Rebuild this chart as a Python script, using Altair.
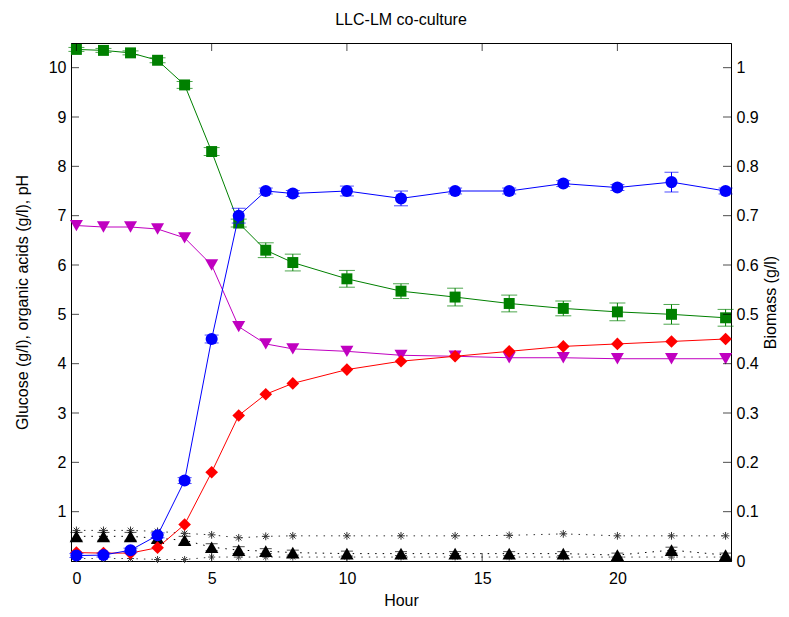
import altair as alt
import pandas as pd

hours = [0, 1, 2, 3, 4, 5, 6, 7, 8, 10, 12, 14, 16, 18, 20, 22, 24]

glucose = [10.37, 10.35, 10.30, 10.15, 9.65, 8.30, 6.85, 6.30, 6.05, 5.72, 5.47, 5.35, 5.22, 5.12, 5.05, 5.00, 4.93]
glucose_err = [0.04, 0.04, 0.04, 0.05, 0.07, 0.08, 0.08, 0.15, 0.17, 0.17, 0.15, 0.18, 0.17, 0.15, 0.18, 0.20, 0.17]

ph = [6.80, 6.77, 6.77, 6.73, 6.55, 6.00, 4.75, 4.40, 4.30, 4.25, 4.17, 4.15, 4.12, 4.12, 4.10, 4.10, 4.10]
lactate = [0.17, 0.16, 0.16, 0.27, 0.74, 1.80, 2.95, 3.38, 3.60, 3.88, 4.05, 4.15, 4.25, 4.35, 4.40, 4.45, 4.50]

acid_a = [0.50, 0.50, 0.50, 0.46, 0.42, 0.28, 0.22, 0.20, 0.17, 0.15, 0.15, 0.15, 0.15, 0.15, 0.12, 0.22, 0.12]
acid_a_err = [0.08, 0.08, 0.08, 0.08, 0.08, 0.07, 0.07, 0.05, 0.05, 0.05, 0.04, 0.04, 0.04, 0.04, 0.04, 0.06, 0.04]
acid_b = [0.62, 0.62, 0.62, 0.60, 0.56, 0.53, 0.47, 0.50, 0.51, 0.51, 0.51, 0.51, 0.52, 0.55, 0.51, 0.51, 0.51]
acid_c = [0.05, 0.05, 0.05, 0.03, 0.03, 0.08, 0.08, 0.08, 0.08, 0.08, 0.08, 0.08, 0.08, 0.08, 0.08, 0.08, 0.08]

biomass = [0.011, 0.012, 0.022, 0.052, 0.163, 0.450, 0.700, 0.750, 0.745, 0.750, 0.735, 0.750, 0.750, 0.765, 0.757, 0.768, 0.750]
biomass_err = [0.004, 0.004, 0.004, 0.005, 0.006, 0.008, 0.015, 0.006, 0.006, 0.010, 0.015, 0.006, 0.006, 0.006, 0.006, 0.020, 0.006]

x_ticks = [0, 5, 10, 15, 20]
left_ticks = [1, 2, 3, 4, 5, 6, 7, 8, 9, 10]
right_ticks = [0, 0.1, 0.2, 0.3, 0.4, 0.5, 0.6, 0.7, 0.8, 0.9, 1.0]

W, H = 660, 518
FONT = "Liberation Sans"
FS = 16

df = pd.DataFrame({
    "hour": hours,
    "glucose": glucose,
    "g_lo": [v - e for v, e in zip(glucose, glucose_err)],
    "g_hi": [v + e for v, e in zip(glucose, glucose_err)],
    "ph": ph,
    "lactate": lactate,
    "acid_a": acid_a,
    "a_lo": [v - e for v, e in zip(acid_a, acid_a_err)],
    "a_hi": [v + e for v, e in zip(acid_a, acid_a_err)],
    "acid_b": acid_b,
    "acid_c": acid_c,
    "biomass": biomass,
    "b_lo": [v - e for v, e in zip(biomass, biomass_err)],
    "b_hi": [v + e for v, e in zip(biomass, biomass_err)],
})

xs = alt.Scale(domain=[-0.2, 24.2], nice=False, zero=False)
ysl = alt.Scale(domain=[0, 10.5], nice=False)
ysr = alt.Scale(domain=[0, 1.05], nice=False)

x_axis = alt.Axis(values=x_ticks, title="Hour", ticks=False, grid=False,
                  labelPadding=9, titlePadding=6, format="d")
X = alt.X("hour:Q", scale=xs, axis=x_axis)

left_axis = alt.Axis(values=left_ticks, title="Glucose (g/l), organic acids (g/l), pH",
                     ticks=False, grid=False, labelPadding=5, titlePadding=18, format="d",
                     orient="left")
right_axis = alt.Axis(values=right_ticks, title="Biomass (g/l)", ticks=False, grid=False,
                      labelPadding=5, titlePadding=4, format="~g", titleAngle=270,
                      titleBaseline="top", orient="right")


def YL(field):
    return alt.Y(f"{field}:Q", scale=ysl, axis=left_axis)


def YR(field):
    return alt.Y(f"{field}:Q", scale=ysr, axis=right_axis)


base = alt.Chart(df)


def series(field, color, shape, size, dash=None, filled=True):
    line_kw = dict(color=color, strokeWidth=1)
    if dash:
        line_kw["strokeDash"] = dash
    ln = base.mark_line(**line_kw).encode(x=X, y=YL(field))
    pt = base.mark_point(shape=shape, size=size, filled=filled, color=color, opacity=1,
                         strokeWidth=0 if filled else 1).encode(x=X, y=YL(field))
    return [ln, pt]


def errbars(lo, hi, color, cap, scale_fn):
    r = base.mark_rule(color=color, strokeWidth=1).encode(x=X, y=scale_fn(lo), y2=f"{hi}:Q")
    c1 = base.mark_tick(color=color, thickness=1, size=cap, orient="horizontal").encode(
        x=X, y=scale_fn(lo))
    c2 = base.mark_tick(color=color, thickness=1, size=cap, orient="horizontal").encode(
        x=X, y=scale_fn(hi))
    return [r, c1, c2]


asterisk = "M-1,0L1,0M0,-1L0,1M-0.7,-0.7L0.7,0.7M-0.7,0.7L0.7,-0.7"

left_layers = []
left_layers += series("acid_c", "#444444", asterisk, 50, dash=[1.5, 6], filled=False)
left_layers += series("acid_b", "#333333", asterisk, 60, dash=[1.5, 6], filled=False)
left_layers += errbars("a_lo", "a_hi", "black", 12, YL)
left_layers += series("acid_a", "black", "triangle-up", 180, dash=[1.5, 6])
left_layers += series("ph", "#c000c0", "triangle-down", 170)
left_layers += series("lactate", "#ff0000", "diamond", 160)
left_layers += errbars("g_lo", "g_hi", "#008000", 16, YL)
left_layers += series("glucose", "#008000", "square", 120)

xt = pd.DataFrame({"hour": x_ticks})
lt = pd.DataFrame({"v": left_ticks})
top_ticks = alt.Chart(xt).mark_tick(color="black", thickness=1, size=8, orient="vertical").encode(
    x=X, y=alt.value(4))
bot_ticks = alt.Chart(xt).mark_tick(color="black", thickness=1, size=8, orient="vertical").encode(
    x=X, y=alt.value(H - 4))
l_ticks = alt.Chart(lt).mark_tick(color="black", thickness=1, size=8, orient="horizontal").encode(
    y=YL("v"), x=alt.value(4))
left_layers += [top_ticks, bot_ticks, l_ticks]

left = alt.layer(*left_layers)

b_line = base.mark_line(color="#0000ff", strokeWidth=1).encode(x=X, y=YR("biomass"))
b_errs = errbars("b_lo", "b_hi", "#0000ff", 14, YR)
b_pts = base.mark_point(shape="circle", size=145, filled=True, color="#0000ff", opacity=1,
                        strokeWidth=0).encode(x=X, y=YR("biomass"))
rt = pd.DataFrame({"v": right_ticks})
r_ticks = alt.Chart(rt).mark_tick(color="black", thickness=1, size=8, orient="horizontal").encode(
    y=YR("v"), x=alt.value(W - 4))

right = alt.layer(b_line, *b_errs, b_pts, r_ticks)

chart = alt.layer(left, right).resolve_scale(y="independent").properties(
    width=W, height=H,
    title=alt.TitleParams("LLC-LM co-culture", font=FONT, fontSize=FS, fontWeight="normal",
                          color="black", anchor="middle", offset=15),
    autosize=alt.AutoSizeParams(type="none"),
    padding={"left": 63, "top": 35, "right": 50, "bottom": 52},
).configure_view(stroke="black", strokeWidth=1).configure_axis(
    domainColor="black", domainWidth=1, labelColor="black", labelFont=FONT,
    labelFontSize=FS, titleFont=FONT, titleFontSize=FS, titleFontWeight="normal",
    titleColor="black",
)

chart.save("out.html", embed_options={"renderer": "svg", "actions": False})
